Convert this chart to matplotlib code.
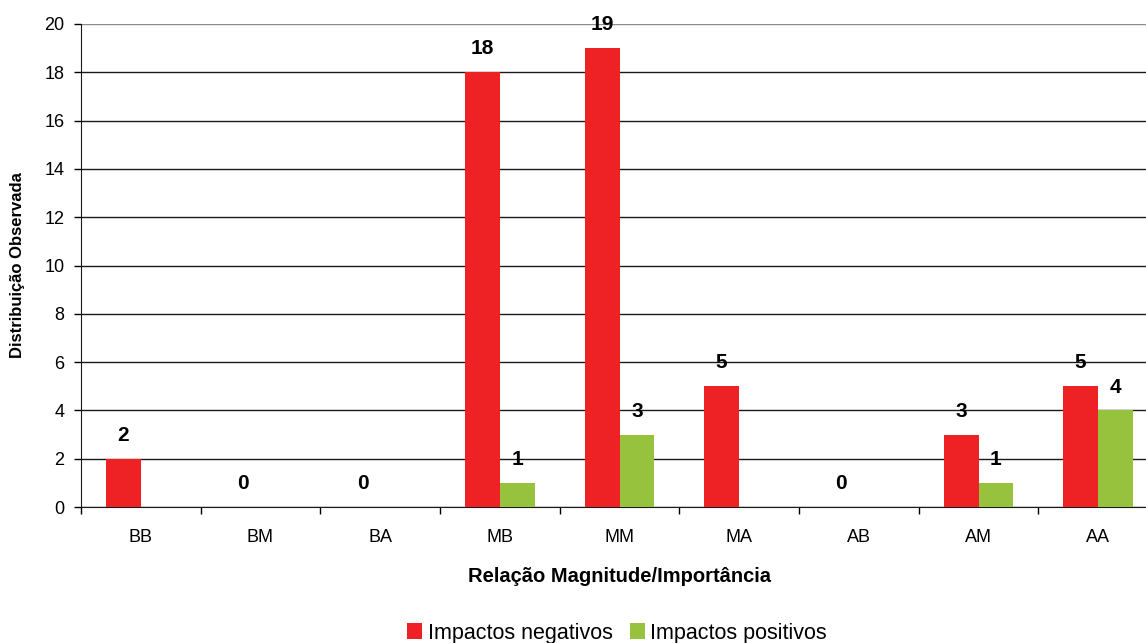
import numpy as np
import matplotlib.pyplot as plt
from matplotlib.ticker import FixedLocator, NullFormatter

plt.rcParams['font.family'] = ['Liberation Sans', 'DejaVu Sans']

categorias = ["BB", "BM", "BA", "MB", "MM", "MA", "AB", "AM", "AA"]
negativos = [2, 0, 0, 18, 19, 5, 0, 3, 5]
positivos = [0, 0, 0, 1, 3, 0, 0, 1, 4]

cor_neg = "#ee2224"
cor_pos = "#96c23d"

fig = plt.figure(figsize=(11.46, 6.43), dpi=100)
ax = fig.add_axes([81 / 1146, 1 - 507 / 643, 1077 / 1146, 483 / 643])

x = np.arange(len(categorias))
w = 0.292
b_neg = ax.bar(x - w / 2, negativos, w, color=cor_neg, label="Impactos negativos", zorder=3)
b_pos = ax.bar(x + w / 2, positivos, w, color=cor_pos, label="Impactos positivos", zorder=3)

# value labels: every negative value, positives only when non-zero
for xi, v in zip(x, negativos):
    ax.annotate(str(v), (xi - w / 2, v), xytext=(0, 10), textcoords="offset points",
                ha="center", va="bottom", fontsize=15, fontweight="bold")
for xi, v in zip(x, positivos):
    if v > 0:
        ax.annotate(str(v), (xi + w / 2, v), xytext=(0, 10), textcoords="offset points",
                    ha="center", va="bottom", fontsize=15, fontweight="bold")

ax.set_xlim(-0.5, len(categorias) - 0.5)
ax.set_ylim(0, 20)
ax.set_yticks(np.arange(0, 21, 2))
ax.set_xticks(x)
ax.set_xticklabels(categorias, fontsize=13)
ax.tick_params(axis="x", which="major", length=0, pad=16)
ax.xaxis.set_minor_locator(FixedLocator(np.arange(-0.5, len(categorias), 1)))
ax.xaxis.set_minor_formatter(NullFormatter())
ax.tick_params(axis="x", which="minor", length=5, width=1, direction="out")
ax.tick_params(axis="y", length=5, width=1, direction="out", labelsize=13, pad=7)

ax.grid(axis="y", color="#1a1a1a", linewidth=1, zorder=0)
ax.get_ygridlines()[-1].set_color("#8c8c8c")  # top border line is lighter
for s in ["top", "right"]:
    ax.spines[s].set_visible(False)
ax.spines["left"].set_color("#1a1a1a")
ax.spines["bottom"].set_color("#1a1a1a")

ax.set_xlabel("Relação Magnitude/Importância", fontsize=14.5, fontweight="bold", labelpad=15)
ax.set_ylabel("Distribuição Observada", fontsize=12, fontweight="bold", labelpad=14)

fig.legend(handles=[b_neg, b_pos], loc="center", bbox_to_anchor=(617 / 1146, 1 - 633 / 643),
           ncol=2, frameon=False, fontsize=15.5, handlelength=0.7, handleheight=0.7,
           handletextpad=0.25, columnspacing=0.8)

fig.savefig("out.png", dpi=100)
